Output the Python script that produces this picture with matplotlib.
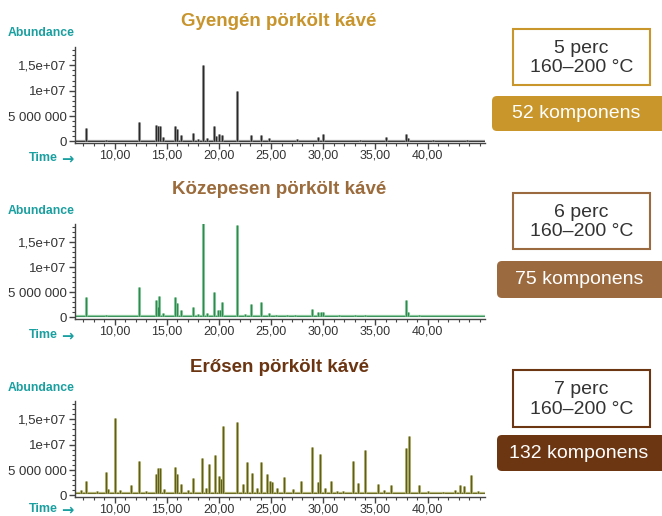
import matplotlib
matplotlib.use("Agg")
import matplotlib.pyplot as plt
from matplotlib.patches import FancyBboxPatch, Rectangle
from matplotlib.ticker import MultipleLocator, FixedLocator, FixedFormatter

plt.rcParams['font.family'] = ['Liberation Sans', 'DejaVu Sans']

# ---------------- data ----------------
titles = ["Gyengén pörkölt kávé", "Közepesen pörkölt kávé", "Erősen pörkölt kávé"]
times_info = ["5 perc\n160–200 °C", "6 perc\n160–200 °C", "7 perc\n160–200 °C"]
components = ["52 komponens", "75 komponens", "132 komponens"]

x_ticks = [10, 15, 20, 25, 30, 35, 40]
x_labels = ["10,00", "15,00", "20,00", "25,00", "30,00", "35,00", "40,00"]
y_ticks = [0, 5e6, 1e7, 1.5e7]
y_labels = ["0", "5 000 000", "1e+07", "1,5e+07"]

# peak retention times (min) and heights (x 1e6 abundance)
t_light = [7.27, 9.2, 12.34, 13.97, 14.13, 14.3, 14.6, 15.8, 16.0, 16.36, 17.5, 18.0,
           18.44, 18.9, 19.55, 19.75, 20.0, 20.26, 21.7, 23.1, 24.0, 24.8, 27.5, 29.5,
           29.98, 33.5, 36.05, 37.9, 38.1, 40.5, 43.8]
h_light = [2.7, 0.3, 3.9, 3.2, 3.0, 3.0, 0.8, 3.0, 2.5, 1.2, 1.6, 0.5,
           15.05, 0.6, 3.0, 1.0, 1.4, 1.2, 10.0, 1.2, 1.3, 0.6, 0.4, 0.8,
           1.4, 0.3, 0.8, 1.4, 0.7, 0.3, 0.3]

t_medium = [7.27, 9.2, 11.5, 12.34, 13.97, 14.13, 14.29, 14.6, 15.8, 16.0, 16.36, 17.5,
            18.0, 18.44, 18.9, 19.55, 19.9, 20.1, 20.3, 21.7, 22.5, 23.1, 24.0, 24.8,
            25.5, 26.5, 27.3, 28.87, 29.5, 29.75, 30.0, 31.5, 33.0, 34.0, 35.5, 37.96,
            38.15, 39.2, 41.0, 43.5]
h_medium = [4.0, 0.5, 0.3, 6.0, 3.5, 2.0, 4.2, 0.8, 4.0, 2.8, 1.5, 2.0,
            0.6, 18.8, 0.8, 5.0, 1.5, 1.5, 3.1, 18.5, 0.6, 2.7, 3.1, 0.9,
            0.5, 0.4, 0.5, 1.7, 1.1, 1.1, 1.1, 0.4, 0.4, 0.4, 0.3, 3.5,
            1.0, 0.5, 0.3, 0.3]

t_dark = [6.8, 7.27, 8.3, 9.17, 9.4, 10.08, 10.5, 11.58, 12.34, 13.0, 13.97, 14.13,
          14.35, 14.7, 15.8, 15.96, 16.37, 17.0, 17.55, 18.34, 18.8, 19.07, 19.62, 20.0,
          20.2, 20.41, 21.7, 22.3, 22.7, 23.2, 23.6, 24.0, 24.6, 24.85, 25.04, 25.6,
          26.2, 27.1, 27.9, 28.87, 29.5, 29.73, 30.2, 30.72, 31.3, 31.9, 32.8, 33.3,
          34.04, 35.2, 35.8, 36.5, 37.96, 38.2, 39.2, 40.0, 41.5, 42.6, 43.06, 43.5,
          44.18, 44.8]
h_dark = [1.0, 2.9, 0.8, 4.65, 1.2, 15.3, 1.0, 2.1, 6.8, 0.8, 4.3, 5.5,
          5.5, 1.2, 5.6, 4.2, 2.3, 1.0, 3.5, 7.3, 1.5, 6.1, 7.9, 3.9,
          3.3, 13.7, 14.5, 2.3, 6.5, 4.4, 1.5, 6.6, 4.2, 2.9, 2.7, 1.5,
          3.7, 1.2, 2.9, 9.5, 2.7, 8.1, 1.5, 2.9, 0.8, 0.8, 6.8, 2.4,
          9.05, 2.3, 1.0, 2.0, 9.3, 11.8, 2.0, 0.8, 0.6, 1.0, 2.0, 1.8,
          4.0, 0.8]

baselines = [0.12, 0.2, 0.55]  # x 1e6

peaks = [(t_light, h_light), (t_medium, h_medium), (t_dark, h_dark)]

# ---------------- style ----------------
title_colors = ["#c8942c", "#9b6b3c", "#6b3512"]
box_colors = ["#c9962b", "#9c6a3f", "#6c3613"]
line_dark = ["#2a2a2a", "#2f8a52", "#5f5f18"]
line_light = ["#9a9a9a", "#8fcc9f", "#b5b77a"]
teal = "#1a9fa0"
axis_col = "#444444"

W, H = 662, 516
fig = plt.figure(figsize=(W / 100, H / 100), dpi=100)

# panel geometry in pixels: (bottom pixel, top pixel)
panel_px = [(143, 47), (319, 224), (497, 401)]
x_left, x_right = 75, 485
xlim = (6.2, 45.5)
ylim = (-0.3e6, 18.6e6)

for i, (bot, top) in enumerate(panel_px):
    ax = fig.add_axes([x_left / W, 1 - bot / H, (x_right - x_left) / W, (bot - top) / H])
    t, h = peaks[i]
    hs = [v * 1e6 for v in h]
    base = baselines[i] * 1e6
    ax.axhline(base, color=line_light[i], lw=1.6, zorder=1)
    ax.axhline(base, color=line_dark[i], lw=0.6, zorder=2)
    ax.vlines(t, base, hs, color=line_light[i], lw=2.2, zorder=2)
    ax.vlines(t, base, hs, color=line_dark[i], lw=0.9, zorder=3)
    ax.set_xlim(*xlim)
    ax.set_ylim(*ylim)
    for s in ["top", "right"]:
        ax.spines[s].set_visible(False)
    for s in ["left", "bottom"]:
        ax.spines[s].set_color(axis_col)
        ax.spines[s].set_linewidth(1.0)
    ax.xaxis.set_major_locator(FixedLocator(x_ticks))
    ax.xaxis.set_major_formatter(FixedFormatter(x_labels))
    ax.xaxis.set_minor_locator(MultipleLocator(1))
    ax.yaxis.set_major_locator(FixedLocator(y_ticks))
    ax.yaxis.set_major_formatter(FixedFormatter(y_labels))
    ax.yaxis.set_minor_locator(MultipleLocator(1e6))
    ax.tick_params(axis="both", which="major", length=4, width=1, color=axis_col,
                   labelcolor="#333333", direction="out")
    ax.tick_params(axis="both", which="minor", length=2.5, width=0.8, color=axis_col,
                   direction="out")
    ax.tick_params(axis="x", labelsize=9, pad=1)
    ax.tick_params(axis="y", labelsize=9.5, pad=2)
    ax.patch.set_alpha(0)

# overlay in pixel coordinates
ov = fig.add_axes([0, 0, 1, 1])
ov.set_xlim(0, W)
ov.set_ylim(H, 0)
ov.axis("off")
ov.patch.set_alpha(0)

title_y = [21, 190, 368]
abund_y = [33.5, 211, 388]
time_y = [158, 335, 509]
white_box = [(513, 29, 137, 56), (513, 193, 137, 56), (513, 370, 137, 57)]
col_box = [(492, 96, 175, 35), (497, 261, 170, 37), (497, 435, 170, 36)]

for i in range(3):
    ov.text(279, title_y[i], titles[i], ha="center", va="center", fontsize=13.5,
            fontweight="bold", color=title_colors[i])
    ov.text(75, abund_y[i], "Abundance", ha="right", va="center", fontsize=8.8,
            fontweight="bold", color=teal)
    ov.text(58, time_y[i], "Time", ha="right", va="center", fontsize=9,
            fontweight="bold", color=teal)
    ov.text(61, time_y[i] + 0.5, "→", ha="left", va="center", fontsize=10.5,
            fontweight="bold", color=teal, family="DejaVu Sans")
    x, y, w, hh = white_box[i]
    ov.add_patch(Rectangle((x, y), w, hh, facecolor="white", edgecolor=box_colors[i], lw=1.5))
    ov.text(x + w / 2, y + hh / 2 + 1, times_info[i], ha="center", va="center",
            fontsize=14, color="#333333", linespacing=1.2)
    x, y, w, hh = col_box[i]
    ov.add_patch(FancyBboxPatch((x, y), w, hh, boxstyle="round,pad=0,rounding_size=5",
                                facecolor=box_colors[i], edgecolor="none"))
    ov.text(x + (655 - x) / 2 + 3, y + hh / 2, components[i], ha="center", va="center",
            fontsize=14, color="white")

fig.savefig("out.png", dpi=100)
